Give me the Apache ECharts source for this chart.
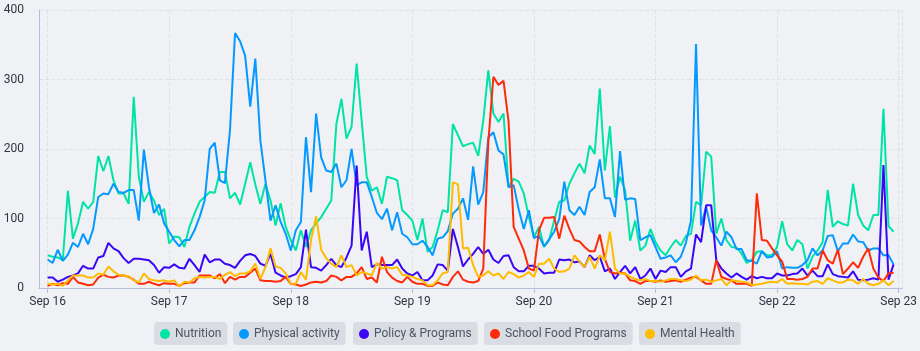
<!DOCTYPE html>
<html><head><meta charset="utf-8">
<script src="https://cdn.jsdelivr.net/npm/echarts@6/dist/echarts.min.js"></script>
<style>html,body{margin:0;padding:0;background:#eff1f4;}#c{width:920px;height:351px;}</style>
</head><body><div id="c"></div>
<script>
// Hourly values starting Sep 16 00:00
const seriesNames = ['Nutrition', 'Physical activity', 'Policy & Programs', 'School Food Programs', 'Mental Health'];
const seriesColors = ['#00e3a6', '#0599ff', '#3a06f5', '#ff2a0a', '#ffbb00'];

const nutrition = [47,45,44,40,140,71,93,124,114,124,190,168,190,155,136,136,121,275,160,124,138,
126,105,114,64,74,73,59,88,107,124,131,138,137,167,167,129,137,120,150,181,149,
121,150,126,90,122,88,69,54,83,59,83,93,102,114,126,236,272,215,232,323,240,
160,140,145,121,160,158,155,112,105,97,69,100,52,59,83,112,109,236,220,204,207,
209,190,241,313,251,239,251,145,157,153,136,102,73,88,59,69,97,124,126,150,165,
179,165,205,193,287,169,233,130,160,141,68,97,54,61,85,66,54,47,59,69,61,
75,78,124,119,196,189,78,100,69,59,58,49,36,40,52,53,47,47,59,96,63,
54,69,63,28,45,54,66,141,88,96,92,90,150,105,90,83,105,105,258,89,81];

const physicalActivity = [41,36,55,39,48,65,59,78,63,85,131,136,135,150,138,137,141,141,97,199,145,
108,120,93,81,69,60,69,69,83,102,126,200,209,155,151,227,367,355,334,261,330,
212,155,97,119,95,78,54,83,95,217,138,251,188,169,167,179,145,155,200,148,152,
152,131,108,99,114,83,109,78,73,63,63,68,59,47,71,73,82,107,114,129,98,
175,120,138,217,224,198,192,145,148,113,85,112,72,75,60,70,81,99,153,112,105,
117,105,138,145,185,129,129,102,197,127,129,128,69,73,76,59,42,44,47,37,45,
65,97,351,90,117,83,73,61,81,73,56,56,40,39,35,53,44,45,53,28,30,
29,29,33,40,57,47,54,75,76,53,64,64,77,67,66,54,57,57,47,47,34];

const policyPrograms = [15,15,9,12,16,18,21,32,28,28,44,46,65,57,53,43,36,42,42,41,40,
33,22,30,29,34,29,28,42,33,23,48,37,41,41,35,33,29,39,47,49,46,
35,32,49,22,18,15,17,20,30,84,30,29,25,33,42,33,30,44,61,176,54,
81,30,34,33,33,33,41,28,21,18,23,11,11,18,34,33,25,85,59,31,41,
49,59,49,55,41,36,46,47,30,24,24,32,32,28,21,22,22,41,40,41,37,
38,30,47,40,45,24,28,13,23,32,21,30,13,18,28,13,25,23,30,30,16,
24,28,77,66,119,119,40,28,21,15,21,16,12,17,14,16,14,14,21,18,18,
20,21,28,18,25,17,17,34,20,17,16,15,24,12,11,12,14,12,177,12,34];

const schoolFood = [3,6,4,7,6,16,8,6,4,5,15,19,16,15,18,18,16,12,6,6,9,
6,4,7,6,6,3,7,8,8,18,18,18,14,20,7,16,12,16,16,22,28,
11,10,10,9,10,16,6,5,3,5,8,9,8,10,18,16,11,16,16,21,30,
13,15,8,45,23,15,10,8,16,9,6,6,3,3,8,5,4,16,24,12,9,
8,10,28,210,304,292,298,239,88,71,54,28,25,83,101,101,102,71,104,85,69,
67,59,53,53,77,42,23,21,22,21,11,10,6,10,10,9,11,9,10,11,9,
12,15,16,11,6,6,40,16,13,11,6,6,6,3,136,69,68,57,47,38,13,
13,12,13,16,28,28,54,40,35,55,20,28,37,29,45,57,28,15,10,21,22];

const mentalHealth = [6,5,6,3,11,18,18,18,15,15,21,19,31,24,19,18,17,11,8,21,13,
11,10,11,9,11,2,9,8,14,16,15,16,16,13,19,23,17,21,21,24,35,
13,30,57,31,29,21,6,6,23,12,69,103,55,43,35,30,47,30,33,18,23,
21,18,36,28,30,28,30,19,18,16,13,11,4,4,11,21,23,152,149,57,58,
33,16,18,24,18,21,13,23,20,15,18,23,16,35,35,42,28,23,24,28,47,
38,30,45,28,47,40,81,28,21,21,16,13,11,13,10,10,9,11,13,13,11,
10,12,18,11,12,9,11,13,4,11,10,9,8,4,5,6,8,9,8,13,6,
7,6,6,5,9,10,6,14,11,8,8,12,11,6,13,6,4,6,11,4,10];

const seriesValues = [nutrition, physicalActivity, policyPrograms, schoolFood, mentalHealth];
const yTicks = [0, 100, 200, 300, 400];

const HOUR = 3600 * 1000;
const DAY = 24 * HOUR;
const startTime = Date.UTC(2024, 8, 16, 0, 0, 0);
const pointCount = nutrition.length;
const endTime = startTime + (pointCount - 1) * HOUR;
const pad = 1.7 * HOUR;

const legendLefts = [154, 233, 353, 484, 639];

const chart = echarts.init(document.getElementById('c'), null, { renderer: 'canvas' });
chart.setOption({
  animation: false,
  useUTC: true,
  backgroundColor: '#eff1f4',
  textStyle: { fontFamily: 'Roboto' },
  grid: { left: 39, right: 3, top: 10, bottom: 63, containLabel: false },
  legend: seriesNames.map((name, i) => ({
    data: [name],
    left: legendLefts[i],
    top: 322,
    orient: 'horizontal',
    icon: 'circle',
    itemWidth: 10,
    itemHeight: 10,
    padding: [6, 6, 5, 6],
    backgroundColor: '#d9dde3',
    borderRadius: 4,
    textStyle: { color: '#4b5563', fontSize: 12, fontFamily: 'Roboto' }
  })),
  xAxis: {
    type: 'time',
    min: startTime - pad,
    max: endTime + pad,
    splitNumber: 7,
    minInterval: DAY,
    maxInterval: DAY,
    axisLine: { show: true, lineStyle: { color: '#b3bfdc', width: 1 } },
    axisTick: { show: true, length: 5, lineStyle: { color: '#b3bfdc' } },
    axisLabel: {
      color: '#2f3542', fontSize: 12, fontFamily: 'Roboto', margin: 8,
      showMinLabel: false, showMaxLabel: false,
      formatter: '{MMM} {d}'
    },
    splitLine: { show: true, lineStyle: { color: '#dde1e8', type: 'dashed', width: 1 } }
  },
  yAxis: {
    type: 'value',
    min: yTicks[0],
    max: yTicks[yTicks.length - 1],
    interval: 100,
    axisLine: { show: true, lineStyle: { color: '#b3bfdc', width: 1 } },
    axisTick: { show: false },
    axisLabel: { color: '#2f3542', fontSize: 12, fontFamily: 'Roboto', margin: 15 },
    splitLine: { show: true, lineStyle: { color: '#dde1e8', type: 'dashed', width: 1 } }
  },
  series: seriesNames.map((name, i) => ({
    name,
    type: 'line',
    data: seriesValues[i].map((v, k) => [startTime + k * HOUR, v]),
    showSymbol: false,
    symbol: 'none',
    color: seriesColors[i],
    lineStyle: { width: 2, color: seriesColors[i] },
    emphasis: { disabled: true }
  }))
});
</script>
</body></html>
